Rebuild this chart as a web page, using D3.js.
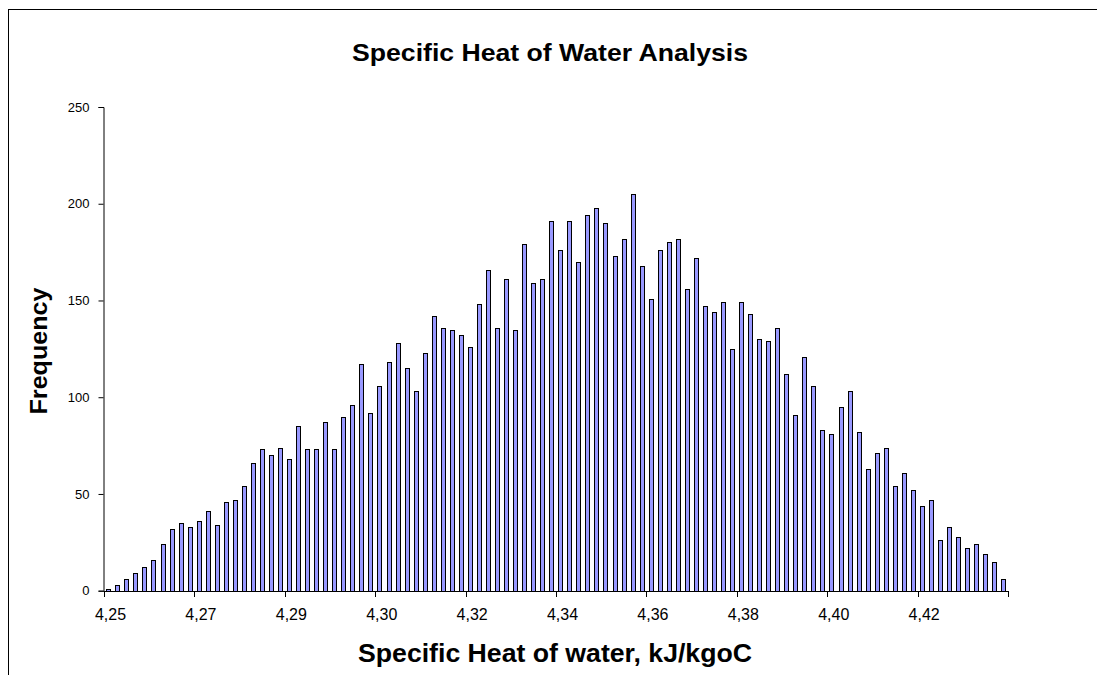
<!DOCTYPE html>
<html lang="en">
<head>
    <meta charset="UTF-8">
    <title>Specific Heat of Water Analysis</title>
    <script type="text/javascript" src="https://d3js.org/d3.v7.min.js"></script>
    <style>
        body{
            margin: 0;
            background-color: white;
        }
        text{
            font-family: "Liberation Sans", Arial, sans-serif;
        }
    </style>
</head>
<body>
    <script type="text/javascript">
        var width = 1097;
        var height = 675;

        // frequency of each bin
        var frequency = [
            1, 3, 6, 9, 12, 16, 24, 32, 35, 33,
            36, 41, 34, 46, 47, 54, 66, 73, 70, 74,
            68, 85, 73, 73, 87, 73, 90, 96, 117, 92,
            106, 118, 128, 115, 103, 123, 142, 136, 135, 132,
            126, 148, 166, 136, 161, 135, 179, 159, 161, 191,
            176, 191, 170, 194, 198, 190, 173, 182, 205, 168,
            151, 176, 180, 182, 156, 172, 147, 144, 149, 125,
            149, 143, 130, 129, 136, 112, 91, 121, 106, 83,
            81, 95, 103, 82, 63, 71, 74, 54, 61, 52,
            44, 47, 26, 33, 28, 22, 24, 19, 15, 6
        ];
        // one label every 10 bins
        var tickLabels = ["4,25", "4,27", "4,29", "4,30", "4,32", "4,34", "4,36", "4,38", "4,40", "4,42"];
        var yTicks = [0, 50, 100, 150, 200, 250];

        var margin = {left: 104, right: 89, top: 107, bottom: 84.3};

        var svg = d3.select("body").append("svg")
            .attr("width", width)
            .attr("height", height);

        // outer chart frame (runs off the right and bottom edges)
        svg.append("rect")
            .attr("x", 8.5).attr("y", 9.5)
            .attr("width", width + 20).attr("height", height + 20)
            .attr("fill", "none").attr("stroke", "black");

        var x = d3.scaleBand()
            .domain(d3.range(frequency.length))
            .range([margin.left, width - margin.right])
            .paddingInner(0.5)
            .paddingOuter(0.25);

        var y = d3.scaleLinear()
            .domain([0, 250])
            .range([height - margin.bottom, margin.top]);

        var x0 = margin.left;

        // bars
        svg.append("g").selectAll("rect")
            .data(frequency)
            .enter()
            .append("rect")
            .attr("x", function(d, i){ return Math.round(x(i)) + 0.5; })
            .attr("y", function(d){ return Math.round(y(d)) + 0.5; })
            .attr("width", 4)
            .attr("height", function(d){ return Math.round(y(0)) - Math.round(y(d)); })
            .attr("fill", "#9999ff")
            .attr("stroke", "black")
            .attr("stroke-width", 1);

        // y axis
        var yAxis = d3.axisLeft(y)
            .tickValues(yTicks)
            .tickSize(5)
            .tickPadding(9);
        var gy = svg.append("g")
            .attr("transform", "translate(" + (x0 - 0.5) + ",0)")
            .call(yAxis);
        gy.select(".domain").attr("stroke", "black");
        gy.selectAll("text").style("font-size", "13px").attr("fill", "black");

        // x axis: ticks at every 10th bin boundary
        var bounds = d3.range(0, frequency.length + 1, 10);
        var xPos = function(k){ return x0 + k * (width - margin.right - margin.left) / frequency.length; };
        var gx = svg.append("g");
        gx.append("line")
            .attr("x1", x0 - 0.5).attr("x2", xPos(frequency.length))
            .attr("y1", Math.round(y(0)) + 0.5).attr("y2", Math.round(y(0)) + 0.5)
            .attr("stroke", "black");
        gx.selectAll("line.tick")
            .data(bounds)
            .enter()
            .append("line")
            .attr("class", "tick")
            .attr("x1", function(k){ return Math.round(xPos(k)) + 0.5; })
            .attr("x2", function(k){ return Math.round(xPos(k)) + 0.5; })
            .attr("y1", Math.round(y(0)))
            .attr("y2", Math.round(y(0)) + 6)
            .attr("stroke", "black");
        gx.selectAll("text")
            .data(tickLabels)
            .enter()
            .append("text")
            .attr("x", function(d, i){ return x(i * 10) + x.bandwidth() / 2 + 2; })
            .attr("y", 620)
            .attr("text-anchor", "middle")
            .style("font-size", "16px")
            .text(function(d){ return d; });

        // titles
        svg.append("text")
            .attr("x", 550).attr("y", 61)
            .attr("text-anchor", "middle")
            .attr("textLength", 396).attr("lengthAdjust", "spacingAndGlyphs")
            .style("font-size", "24px").style("font-weight", "bold")
            .text("Specific Heat of Water Analysis");

        svg.append("text")
            .attr("x", 555).attr("y", 662)
            .attr("text-anchor", "middle")
            .attr("textLength", 394).attr("lengthAdjust", "spacingAndGlyphs")
            .style("font-size", "25px").style("font-weight", "bold")
            .text("Specific Heat of water, kJ/kgoC");

        svg.append("text")
            .attr("transform", "translate(47,351) rotate(-90)")
            .attr("text-anchor", "middle")
            .attr("textLength", 127).attr("lengthAdjust", "spacingAndGlyphs")
            .style("font-size", "24px").style("font-weight", "bold")
            .text("Frequency");
    </script>
</body>
</html>
